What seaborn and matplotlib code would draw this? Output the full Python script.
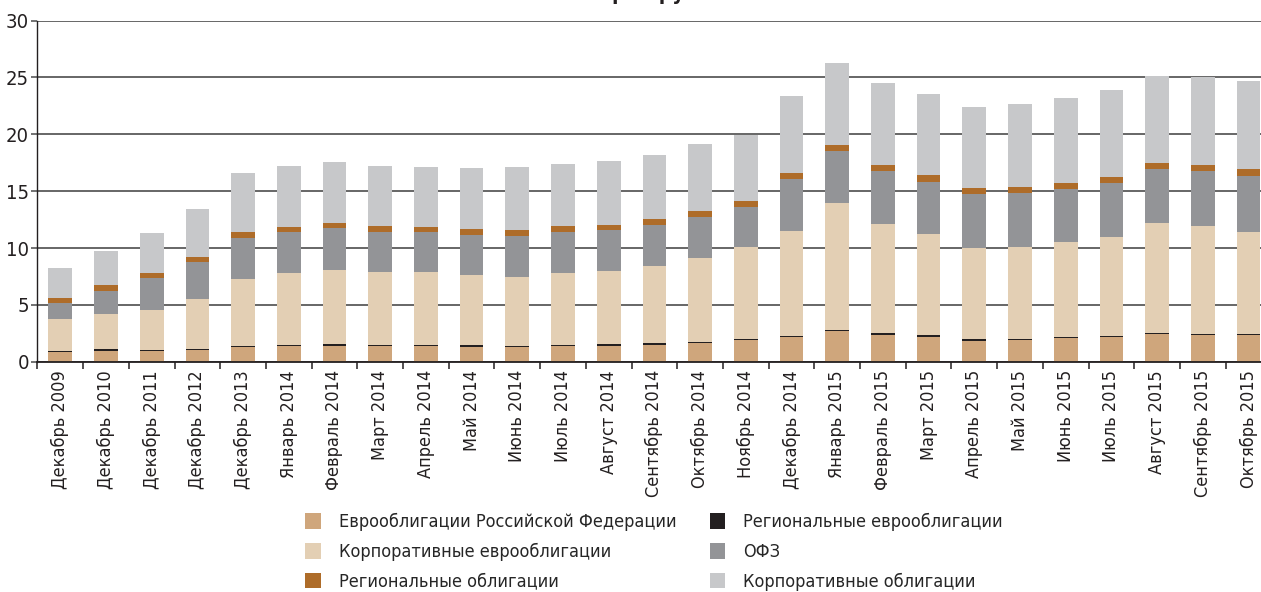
import matplotlib
matplotlib.use("Agg")
import matplotlib.pyplot as plt
from matplotlib.patches import Patch
from matplotlib import font_manager as fm
import numpy as np
import pandas as pd
import seaborn as sns

categories = ["Декабрь 2009", "Декабрь 2010", "Декабрь 2011", "Декабрь 2012", "Декабрь 2013",
              "Январь 2014", "Февраль 2014", "Март 2014", "Апрель 2014", "Май 2014", "Июнь 2014",
              "Июль 2014", "Август 2014", "Сентябрь 2014", "Октябрь 2014", "Ноябрь 2014",
              "Декабрь 2014", "Январь 2015", "Февраль 2015", "Март 2015", "Апрель 2015",
              "Май 2015", "Июнь 2015", "Июль 2015", "Август 2015", "Сентябрь 2015", "Октябрь 2015"]

euro_rf = [0.82, 0.94, 0.91, 1.06, 1.29, 1.41, 1.41, 1.38, 1.41, 1.32, 1.32, 1.38, 1.41, 1.47,
           1.61, 1.91, 2.17, 2.67, 2.35, 2.20, 1.85, 1.91, 2.08, 2.20, 2.40, 2.32, 2.32]
reg_euro = [0.12, 0.14, 0.12, 0.08, 0.12, 0.09, 0.14, 0.12, 0.09, 0.12, 0.09, 0.09, 0.14, 0.17,
            0.12, 0.11, 0.12, 0.15, 0.14, 0.12, 0.11, 0.11, 0.09, 0.09, 0.12, 0.11, 0.08]
corp_euro = [2.78, 3.14, 3.54, 4.37, 5.83, 6.27, 6.51, 6.39, 6.36, 6.18, 6.07, 6.30, 6.43, 6.81,
             7.42, 8.10, 9.23, 11.11, 9.65, 8.91, 8.04, 8.04, 8.33, 8.71, 9.65, 9.51, 9.04]
ofz = [1.44, 2.03, 2.79, 3.23, 3.64, 3.61, 3.67, 3.55, 3.52, 3.55, 3.55, 3.67, 3.57, 3.60,
       3.61, 3.52, 4.55, 4.57, 4.63, 4.61, 4.72, 4.78, 4.69, 4.72, 4.78, 4.83, 4.92]
reg_bonds = [0.44, 0.49, 0.47, 0.47, 0.50, 0.50, 0.50, 0.50, 0.50, 0.50, 0.52, 0.50, 0.50, 0.50,
             0.52, 0.52, 0.53, 0.56, 0.53, 0.55, 0.53, 0.53, 0.56, 0.56, 0.53, 0.56, 0.56]
corp_bonds = [2.64, 3.03, 3.49, 4.22, 5.25, 5.36, 5.37, 5.30, 5.28, 5.34, 5.61, 5.45, 5.57, 5.63,
              5.87, 5.78, 6.77, 7.18, 7.19, 7.16, 7.15, 7.33, 7.45, 7.65, 7.68, 7.71, 7.80]

series_names = ["Еврооблигации Российской Федерации", "Региональные еврооблигации",
                "Корпоративные еврооблигации", "ОФЗ", "Региональные облигации",
                "Корпоративные облигации"]
series_values = [euro_rf, reg_euro, corp_euro, ofz, reg_bonds, corp_bonds]
colors = ["#cfa67c", "#231f20", "#e3cfb4", "#939497", "#ae6c29", "#c7c8ca"]
y_ticks = [0, 5, 10, 15, 20, 25, 30]

sns.set_theme(style="white")

# pick a narrow font if one is available
font_entries = [(f.name, str(f.stretch)) for f in fm.fontManager.ttflist]
has_narrow = any(n == "Liberation Sans Narrow" for n, s in font_entries)
has_dv_cond = any(n == "DejaVu Sans" and "condensed" in s for n, s in font_entries)
if has_narrow:
    plt.rcParams["font.family"] = ["Liberation Sans Narrow", "DejaVu Sans"]
    fs = 14.5
elif has_dv_cond:
    plt.rcParams["font.family"] = ["DejaVu Sans"]
    plt.rcParams["font.stretch"] = "condensed"
    fs = 13
else:
    plt.rcParams["font.family"] = ["DejaVu Sans"]
    fs = 11.5
plt.rcParams["axes.unicode_minus"] = False

fig = plt.figure(figsize=(12.61, 5.92), dpi=100)
ax = fig.add_axes([0.0297, 0.389, 0.9785, 0.5762])

cum = np.zeros(len(categories))
cums = []
for vals in series_values:
    cum = cum + np.array(vals)
    cums.append(cum.copy())

# draw cumulative totals from the top layer downward
for i in range(len(series_values) - 1, -1, -1):
    d = pd.DataFrame({"cat": categories, "val": cums[i]})
    sns.barplot(data=d, x="cat", y="val", color=colors[i], saturation=1, width=0.52,
                ax=ax, linewidth=0, zorder=2)

ax.set_xlim(-0.5, len(categories) - 0.5)
ax.set_ylim(0, 30)
ax.set_yticks(y_ticks)
ax.set_xlabel("")
ax.set_ylabel("")
ax.set_axisbelow(True)
ax.yaxis.grid(True, color="#5a5a5a", linewidth=1.3)
ax.xaxis.grid(False)
for s in ["top", "right"]:
    ax.spines[s].set_visible(False)
ax.spines["left"].set_color("#231f20")
ax.spines["left"].set_linewidth(1.0)
ax.spines["bottom"].set_color("#231f20")
ax.spines["bottom"].set_linewidth(1.3)

ax.set_xticks(range(len(categories)))
ax.set_xticklabels(categories, rotation=90, fontsize=fs, color="#231f20")
ax.set_xticks(np.arange(-0.5, len(categories), 1.0), minor=True)
ax.tick_params(axis="x", which="major", length=0, pad=6)
ax.tick_params(axis="x", which="minor", length=5, width=1.1, color="#231f20", direction="out",
               bottom=True)
ax.tick_params(axis="y", length=4, width=1.2, color="#5a5a5a", direction="out", left=True,
               labelsize=fs + 1.5, labelcolor="#231f20", pad=2)

handles = [Patch(facecolor=colors[i], edgecolor="none") for i in [0, 2, 4, 1, 3, 5]]
labels = [series_names[i] for i in [0, 2, 4, 1, 3, 5]]
fig.legend(handles, labels, ncol=2, loc="upper left", bbox_to_anchor=(0.242, 0.133),
           frameon=False, fontsize=fs, handlelength=0.85, handleheight=0.95,
           handletextpad=1.0, columnspacing=1.85, labelspacing=0.64, borderaxespad=0,
           borderpad=0)

fig.text(0.518, 1.0, "трлн руб.", ha="center", va="baseline", fontsize=fs + 2,
         fontweight="bold", color="#231f20")

fig.savefig("out.png", dpi=100)
